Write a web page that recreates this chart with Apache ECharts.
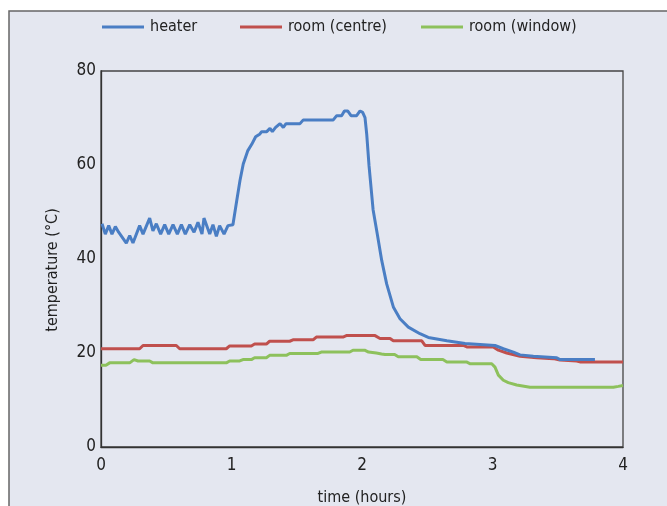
<!DOCTYPE html>
<html>
<head>
<meta charset="utf-8">
<script src="https://cdn.jsdelivr.net/npm/echarts@6/dist/echarts.min.js"></script>
<style>
  html, body { margin: 0; padding: 0; background: #fff; }
  #chart { width: 667px; height: 506px; }
</style>
</head>
<body>
<div id="chart"></div>
<script>
// time (hours) / temperature (°C)
var heaterTime = [0.008, 0.033, 0.059, 0.084, 0.110, 0.135, 0.194, 0.220, 0.245, 0.296, 0.322, 0.373, 0.398, 0.424, 0.457, 0.488, 0.519, 0.552, 0.585, 0.616, 0.646, 0.680, 0.713, 0.743, 0.774, 0.789, 0.833, 0.858, 0.884, 0.909, 0.943, 0.973, 1.011, 1.040, 1.065, 1.090, 1.124, 1.155, 1.185, 1.218, 1.231, 1.270, 1.295, 1.313, 1.338, 1.372, 1.397, 1.418, 1.525, 1.550, 1.780, 1.806, 1.844, 1.865, 1.890, 1.916, 1.959, 1.985, 2.005, 2.023, 2.036, 2.054, 2.074, 2.085, 2.117, 2.151, 2.189, 2.240, 2.291, 2.355, 2.444, 2.508, 2.650, 2.790, 3.019, 3.083, 3.160, 3.211, 3.313, 3.492, 3.517, 3.785];
var heater = [47.5, 45.3, 47.1, 45.3, 46.9, 45.7, 43.4, 45.0, 43.4, 47.1, 45.3, 48.7, 46.0, 47.5, 45.3, 47.3, 45.3, 47.3, 45.3, 47.3, 45.3, 47.3, 45.7, 47.8, 45.3, 48.7, 45.3, 47.3, 44.8, 47.1, 45.3, 47.1, 47.3, 52.4, 56.7, 60.2, 63.0, 64.4, 66.0, 66.6, 67.1, 67.1, 67.8, 67.1, 68.0, 68.8, 68.0, 68.8, 68.8, 69.6, 69.6, 70.5, 70.5, 71.5, 71.5, 70.5, 70.5, 71.5, 71.2, 70.1, 66.6, 59.8, 53.8, 50.5, 45.3, 39.7, 34.7, 29.8, 27.3, 25.5, 24.1, 23.3, 22.6, 22.0, 21.6, 20.9, 20.2, 19.6, 19.3, 19.0, 18.6, 18.6];

var centreTime = [0, 0.296, 0.322, 0.577, 0.603, 0.960, 0.986, 1.152, 1.177, 1.267, 1.292, 1.446, 1.471, 1.625, 1.650, 1.854, 1.880, 2.100, 2.138, 2.215, 2.240, 2.458, 2.483, 2.777, 2.803, 3.006, 3.045, 3.109, 3.211, 3.339, 3.466, 3.517, 3.645, 3.670, 4.0];
var centre = [20.9, 20.9, 21.6, 21.6, 20.9, 20.9, 21.5, 21.5, 21.9, 21.9, 22.5, 22.5, 22.8, 22.8, 23.4, 23.4, 23.7, 23.7, 23.1, 23.1, 22.6, 22.6, 21.6, 21.6, 21.3, 21.3, 20.6, 20.0, 19.3, 19.0, 18.8, 18.5, 18.3, 18.1, 18.1];

var windowTime = [0, 0.038, 0.066, 0.220, 0.253, 0.284, 0.373, 0.398, 0.960, 0.986, 1.063, 1.088, 1.152, 1.177, 1.267, 1.292, 1.420, 1.446, 1.663, 1.688, 1.906, 1.931, 2.020, 2.050, 2.110, 2.150, 2.176, 2.250, 2.278, 2.420, 2.450, 2.620, 2.650, 2.800, 2.830, 2.994, 3.019, 3.045, 3.083, 3.121, 3.185, 3.287, 3.926, 3.964, 4.0];
var windowT = [17.4, 17.4, 17.9, 17.9, 18.6, 18.3, 18.3, 17.9, 17.9, 18.3, 18.3, 18.6, 18.6, 19.0, 19.0, 19.5, 19.5, 19.9, 19.9, 20.2, 20.2, 20.6, 20.6, 20.2, 20.0, 19.8, 19.7, 19.7, 19.2, 19.2, 18.6, 18.6, 18.1, 18.1, 17.7, 17.7, 17.0, 15.3, 14.2, 13.7, 13.2, 12.7, 12.7, 12.9, 13.1];

var seriesNames = ['heater', 'room (centre)', 'room (window)'];
var xTicks = [0, 1, 2, 3, 4];
var yTicks = [0, 20, 40, 60, 80];

function pairs(ts, vs) {
  return ts.map(function (t, i) { return [t, vs[i]]; });
}

var font = '"DejaVu Sans Condensed", "Liberation Sans Narrow", sans-serif';
var chart = echarts.init(document.getElementById('chart'), null, { renderer: 'canvas' });

// one legend per entry so each can sit where the original has it
var legendLeft = [102, 240, 421];
var legends = seriesNames.map(function (name, i) {
  return {
    top: 19,
    left: legendLeft[i],
    padding: 0,
    itemWidth: 42,
    itemHeight: 3,
    itemGap: 0,
    icon: 'rect',
    textStyle: { fontFamily: font, fontSize: 16, color: '#222', padding: [0, 0, 0, 1] },
    data: [name]
  };
});

var option = {
  backgroundColor: '#fff',
  animation: false,
  textStyle: { fontFamily: font },
  graphic: [{
    type: 'rect',
    z: -10,
    silent: true,
    shape: { x: 9, y: 11, width: 700, height: 560 },
    style: { fill: '#e4e7f0', stroke: '#666', lineWidth: 1.5 }
  }],
  legend: legends,
  grid: {
    left: 101,
    right: 44,
    top: 71,
    bottom: 59,
    outerBoundsMode: 'none',
    containLabel: false,
    show: true,
    borderColor: '#444',
    borderWidth: 1.3,
    backgroundColor: 'transparent'
  },
  xAxis: {
    type: 'value',
    min: 0,
    max: 4,
    interval: 1,
    name: 'time (hours)',
    nameLocation: 'middle',
    nameGap: 43,
    nameTextStyle: { fontFamily: font, fontSize: 16, color: '#222' },
    axisLine: { show: true, lineStyle: { color: '#333', width: 1.3 } },
    axisTick: { show: false },
    splitLine: { show: false },
    axisLabel: {
      fontFamily: font, fontSize: 17, color: '#222', margin: 10,
      formatter: function (v) { return xTicks.indexOf(v) >= 0 ? String(v) : ''; }
    }
  },
  yAxis: {
    type: 'value',
    min: 0,
    max: 80,
    interval: 20,
    name: 'temperature (°C)',
    nameLocation: 'middle',
    nameGap: 40,
    nameTextStyle: { fontFamily: font, fontSize: 16, color: '#222', padding: [0, 22, 0, 0] },
    axisLine: { show: true, lineStyle: { color: '#333', width: 1.3 } },
    axisTick: { show: false },
    splitLine: { show: false },
    axisLabel: {
      fontFamily: font, fontSize: 17, color: '#222', margin: 5,
      formatter: function (v) { return yTicks.indexOf(v) >= 0 ? String(v) : ''; }
    }
  },
  series: [
    {
      name: seriesNames[0], type: 'line', showSymbol: false, z: 3,
      color: '#4a7ec4',
      lineStyle: { width: 3, color: '#4a7ec4' },
      data: pairs(heaterTime, heater)
    },
    {
      name: seriesNames[1], type: 'line', showSymbol: false, z: 2,
      color: '#c0504d',
      lineStyle: { width: 3, color: '#c0504d' },
      data: pairs(centreTime, centre)
    },
    {
      name: seriesNames[2], type: 'line', showSymbol: false, z: 2,
      color: '#8dc15c',
      lineStyle: { width: 3, color: '#8dc15c' },
      data: pairs(windowTime, windowT)
    }
  ]
};
chart.setOption(option);
</script>
</body>
</html>
